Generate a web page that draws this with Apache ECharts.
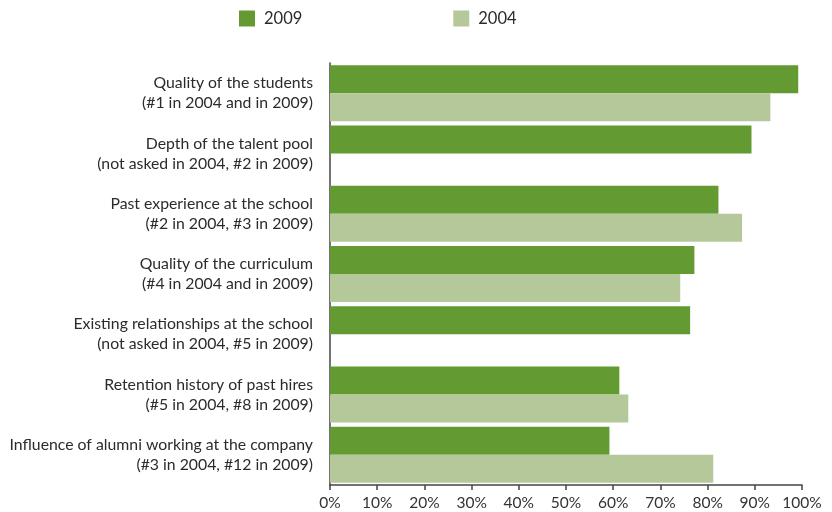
<!DOCTYPE html>
<html>
<head>
<meta charset="utf-8">
<script src="https://cdn.jsdelivr.net/npm/echarts@6/dist/echarts.min.js"></script>
<style>html,body{margin:0;padding:0;background:#fff}#c{width:832px;height:512px}</style>
</head>
<body>
<div id="c"></div>
<script>
const categories = [
  "Quality of the students\n(#1 in 2004 and in 2009)",
  "Depth of the talent pool\n(not asked in 2004, #2 in 2009)",
  "Past experience at the school\n(#2 in 2004, #3 in 2009)",
  "Quality of the curriculum\n(#4 in 2004 and in 2009)",
  "Existing relationships at the school\n(not asked in 2004, #5 in 2009)",
  "Retention history of past hires\n(#5 in 2004, #8 in 2009)",
  "Influence of alumni working at the company\n(#3 in 2004, #12 in 2009)"
];
const values2009 = [99.2, 89.3, 82.3, 77.2, 76.3, 61.3, 59.2];
const values2004 = [93.3, null, 87.3, 74.2, null, 63.2, 81.2];
const seriesNames = ["2009", "2004"];

const chart = echarts.init(document.getElementById('c'));
const font = 'Lato';
chart.setOption({
  animation: false,
  textStyle: { fontFamily: font },
  legend: {
    left: 234, top: 5,
    itemWidth: 16, itemHeight: 16, itemGap: 151,
    icon: 'rect',
    textStyle: { fontFamily: font, fontSize: 16.5, color: '#2b2b2b', padding: [0, 0, 0, 4] },
    data: seriesNames
  },
  grid: { left: 330, right: 30, top: 63, bottom: 27, containLabel: false },
  xAxis: {
    type: 'value', min: 0, max: 100, interval: 10,
    axisLine: { show: true, lineStyle: { color: '#444', width: 1.5 } },
    axisTick: { show: true, length: 5, lineStyle: { color: '#444', width: 1.5 } },
    axisLabel: { formatter: '{value}%', color: '#333', fontSize: 15.5, fontFamily: font, margin: 10 },
    splitLine: { show: false }
  },
  yAxis: {
    type: 'category', inverse: true, data: categories,
    axisLine: { show: true, lineStyle: { color: '#444', width: 1.5 } },
    axisTick: { show: false },
    axisLabel: { color: '#2b2b2b', fontSize: 15.8, fontFamily: font, lineHeight: 20, margin: 17, align: 'right' }
  },
  series: [
    { name: seriesNames[0], type: 'bar', data: values2009, barWidth: 28, barGap: '0%', itemStyle: { color: '#639B32' } },
    { name: seriesNames[1], type: 'bar', data: values2004, barWidth: 28, barGap: '0%', itemStyle: { color: '#B5C89A' } }
  ]
});
</script>
</body>
</html>
